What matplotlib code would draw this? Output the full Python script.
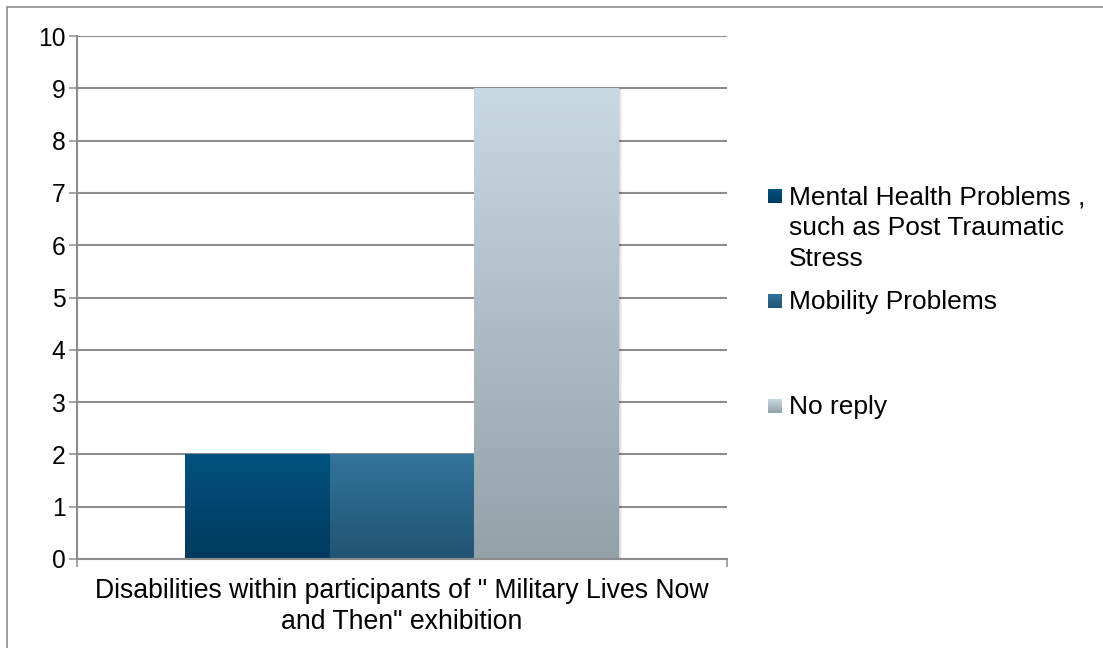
import numpy as np
import matplotlib.pyplot as plt
from matplotlib.colors import LinearSegmentedColormap
from matplotlib.patches import Rectangle

# data
category = 'Disabilities within participants of " Military Lives Now\nand Then" exhibition'
series = ["Mental Health Problems ,\nsuch as Post Traumatic\nStress",
          "Mobility Problems",
          "No reply"]
values = [2, 2, 9]
# (top colour, bottom colour) of each gradient
grad_colors = [("#02527F", "#003A5F"),
               ("#32749C", "#225473"),
               ("#C9D9E1", "#93A1A9")]

W, H = 1103, 648
GRID = "#8C8C8C"
FONT = ["Liberation Sans", "DejaVu Sans"]
plt.rcParams["font.family"] = FONT

fig = plt.figure(figsize=(W / 100, H / 100), dpi=100)
ax = fig.add_axes([77 / W, 1 - 559 / H, 650 / W, 523 / H])

bar_w = 0.2226
offsets = [-bar_w, 0, bar_w]
grad = np.linspace(1, 0, 256).reshape(-1, 1)
for off, v, (c_top, c_bot) in zip(offsets, values, grad_colors):
    # soft shadow behind the bar
    for k in range(1, 4):
        ax.bar(off + k * 0.0015, v, width=bar_w, bottom=-k * 0.006,
               color="black", alpha=0.05, zorder=2, linewidth=0)
    bar = ax.bar(off, v, width=bar_w, color=c_bot, zorder=3, linewidth=0)[0]
    cmap = LinearSegmentedColormap.from_list("g", [c_bot, c_top])
    im = ax.imshow(grad, cmap=cmap, aspect="auto", zorder=4,
                   extent=[off - bar_w / 2, off + bar_w / 2, 0, v])
    im.set_clip_path(bar)

ax.set_xlim(-0.5, 0.5)
ax.set_ylim(0, 10)
ax.set_yticks(range(0, 11))
ax.tick_params(axis="y", length=5.8, width=1.1, color=GRID, labelsize=17.7, pad=2.5)
ax.set_xticks([-0.5, 0.5])
ax.set_xticklabels(["", ""])
ax.tick_params(axis="x", which="major", length=5.8, width=1.1, color=GRID)
ax.set_xticks([0], minor=True)
ax.set_xticklabels([category], minor=True, fontsize=19.2, linespacing=1.22)
ax.tick_params(axis="x", which="minor", length=0, pad=14)
ax.grid(axis="y", color=GRID, linewidth=1.5, zorder=0)
ax.set_axisbelow(True)
for s in ["top", "right"]:
    ax.spines[s].set_visible(False)
for s in ["left", "bottom"]:
    ax.spines[s].set_color(GRID)
    ax.spines[s].set_linewidth(1.5)
    ax.spines[s].set_zorder(5)

# legend drawn by hand (Excel spacing is uneven)
leg_y = [196, 301, 406]
for lab, (c_top, c_bot), y in zip(series, grad_colors, leg_y):
    cmap = LinearSegmentedColormap.from_list("g", [c_bot, c_top])
    lax = fig.add_axes([768 / W, 1 - (y + 7) / H, 14 / W, 14 / H])
    lax.imshow(grad, cmap=cmap, aspect="auto")
    lax.axis("off")
    fig.text(789 / W, 1 - (y - 11) / H, lab, fontsize=19, va="top",
             ha="left", linespacing=1.37)

fig.add_artist(Rectangle((7 / W, -0.05), 1.1, 1 - 7 / H + 0.05,
                         transform=fig.transFigure, fill=False,
                         edgecolor="#8C8C8C", linewidth=1.2))

fig.savefig("out.png", dpi=100)
